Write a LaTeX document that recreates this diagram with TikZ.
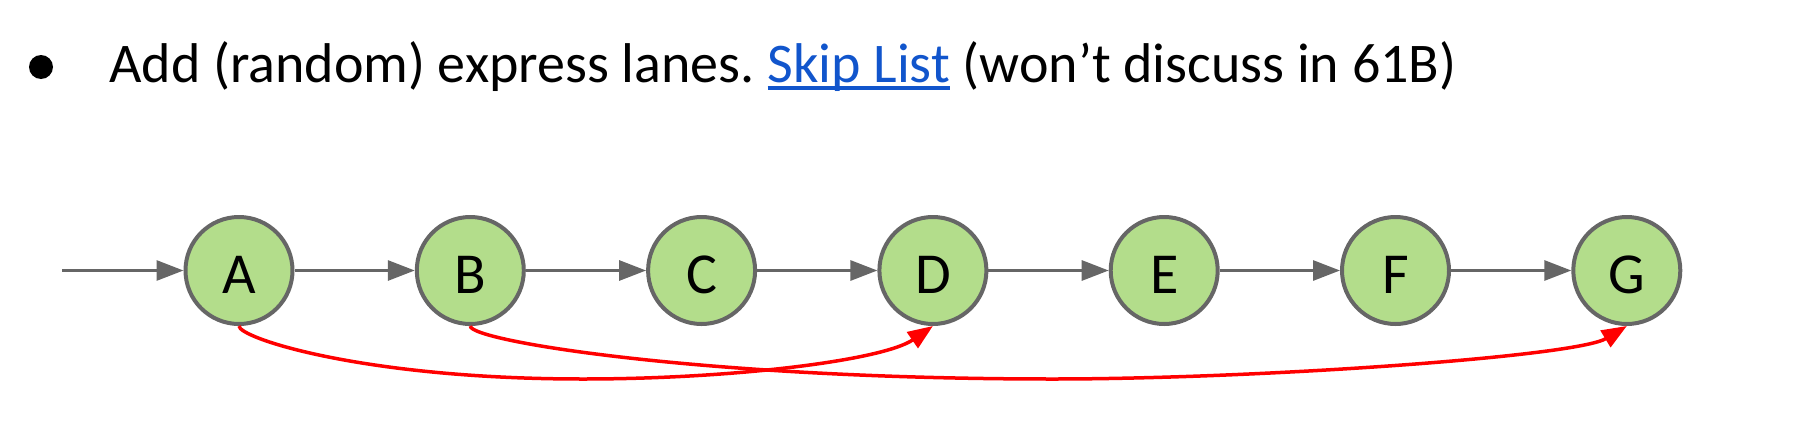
\documentclass[tikz,border=0pt]{standalone}
\usepackage{fontspec}
\setmainfont{Carlito}
\usetikzlibrary{arrows.meta}
\definecolor{nodegray}{HTML}{666666}
\definecolor{nodegreen}{HTML}{B3DD8B}
\definecolor{lanered}{HTML}{FF0000}
\definecolor{linkblue}{HTML}{1155CC}
\newcommand{\linkul}[1]{\setbox0\hbox{#1}\rlap{\rule[-8pt]{\wd0}{4pt}}\box0}
\frenchspacing
\tikzset{
  listnode/.style={circle, draw=nodegray, line width=4pt, fill=nodegreen, minimum size=107pt, inner sep=0pt,
    font=\fontsize{58}{58}\selectfont, text height=45pt, text depth=0pt},
  nextptr/.style={draw=nodegray, line width=3pt, -{Triangle[length=27pt,width=20pt]}},
  expressptr/.style={draw=lanered, line width=3.5pt, -{Triangle[length=25pt,width=19pt]}}
}
\begin{document}
\begin{tikzpicture}[x=1pt, y=-1pt]
                \useasboundingbox (0,0) rectangle (1818,434);
                \node[circle, fill=black, minimum size=24pt, inner sep=0pt] (bullet) at (41,67) {};
                \node[anchor=base west, inner sep=0pt, font=\fontsize{56}{56}\selectfont] (heading) at (109,82)
                    {Add (random) express lanes. \textcolor{linkblue}{\linkul{Skip List}} (won’t discuss in 61B)};
                \coordinate (head) at (62,270.5);
                \node[listnode] (A) at (239,270.5) {A};
                \node[listnode] (B) at (470.3,270.5) {B};
                \node[listnode] (C) at (701.6,270.5) {C};
                \node[listnode] (D) at (932.9,270.5) {D};
                \node[listnode] (E) at (1164.2,270.5) {E};
                \node[listnode] (F) at (1395.5,270.5) {F};
                \node[listnode] (G) at (1626.8,270.5) {G};
                \draw[nextptr] (head) -- (A);
                \draw[nextptr] (A) -- (B);
                \draw[nextptr] (B) -- (C);
                \draw[nextptr] (C) -- (D);
                \draw[nextptr] (D) -- (E);
                \draw[nextptr] (E) -- (F);
                \draw[nextptr] (F) -- (G);
                \draw[expressptr] (A.south) .. controls (239,338) and (363,379) .. (583,379)
                    .. controls (733,379) and (883,360.4) .. (D.south);
                \draw[expressptr] (B.south) .. controls (470,341) and (703,379) .. (1053,379)
                    .. controls (1253,379) and (1575.6,356.9) .. (G.south);
            \end{tikzpicture}
\end{document}
